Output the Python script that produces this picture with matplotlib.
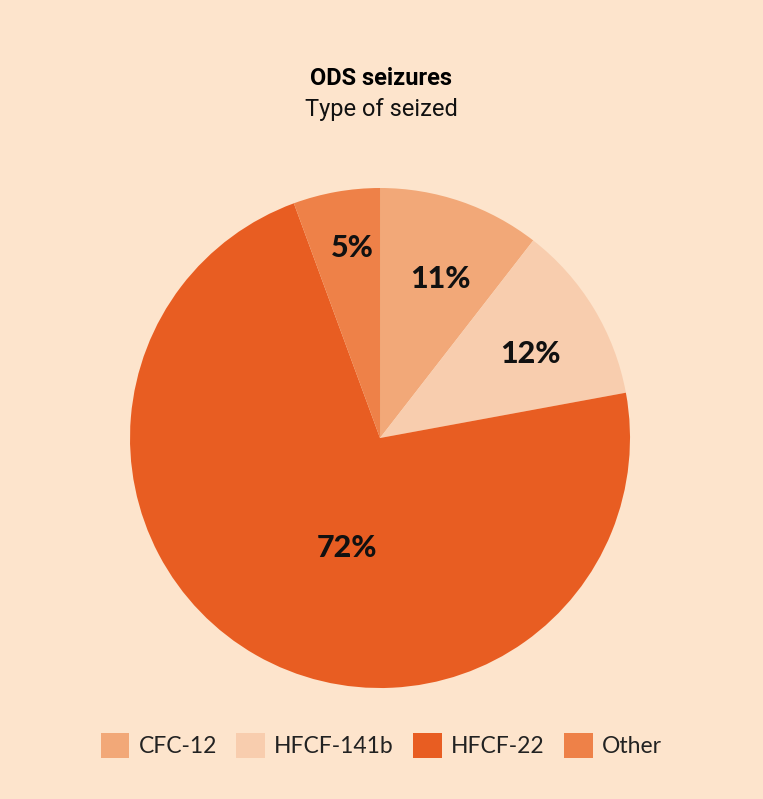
import numpy as np
import matplotlib
matplotlib.use('Agg')
import matplotlib.pyplot as plt

labels = ['CFC-12', 'HFCF-141b', 'HFCF-22', 'Other']
shares = [10.5, 11.6, 72.3, 5.6]          # wedge sizes as drawn
pct_text = ['11%', '12%', '72%', '5%']    # printed labels
colors = ['#F2A878', '#F8CDAE', '#E85D22', '#EE8148']
label_dist = [0.68, 0.69, 0.46, 0.77]
label_shift = [-2, -2.3, 13, -1.7]   # degrees, nudges labels off the wedge middle

BG = '#FDE4CC'

fig = plt.figure(figsize=(7.63, 7.99), dpi=100, facecolor=BG)
ax = fig.add_axes([0.1704, 0.1389, 0.6553, 0.6258])
ax.set_facecolor(BG)

wedges, _ = ax.pie(shares, colors=colors, startangle=90, counterclock=False,
                   radius=1.0, wedgeprops=dict(linewidth=0))
ax.set_xlim(-1, 1); ax.set_ylim(-1, 1)
ax.set_aspect('auto')
ax.axis('off')

for w, t, d, s in zip(wedges, pct_text, label_dist, label_shift):
    mid = np.deg2rad((w.theta1 + w.theta2) / 2 + s)
    ax.text(d * np.cos(mid), d * np.sin(mid), t, ha='center',
            va='center', fontsize=22, fontweight='black', family='Lato',
            color='#111111')

fig.text(0.5, 0.902, 'ODS seizures', ha='center', va='center',
         fontsize=17, fontweight='bold', family='Roboto', color='black')
fig.text(0.5, 0.863, 'Type of seized', ha='center', va='center',
         fontsize=17, family='Roboto', color='#111111')

leg = fig.legend(wedges, labels, loc='center', bbox_to_anchor=(0.5, 0.067),
                 ncol=4, frameon=False, handlelength=1.25, handleheight=1.25,
                 handletextpad=0.4, columnspacing=0.85,
                 prop=dict(family='Lato', size=16.5))
for t in leg.get_texts():
    t.set_color('#222222')

fig.savefig('out.png', dpi=100, facecolor=BG)
